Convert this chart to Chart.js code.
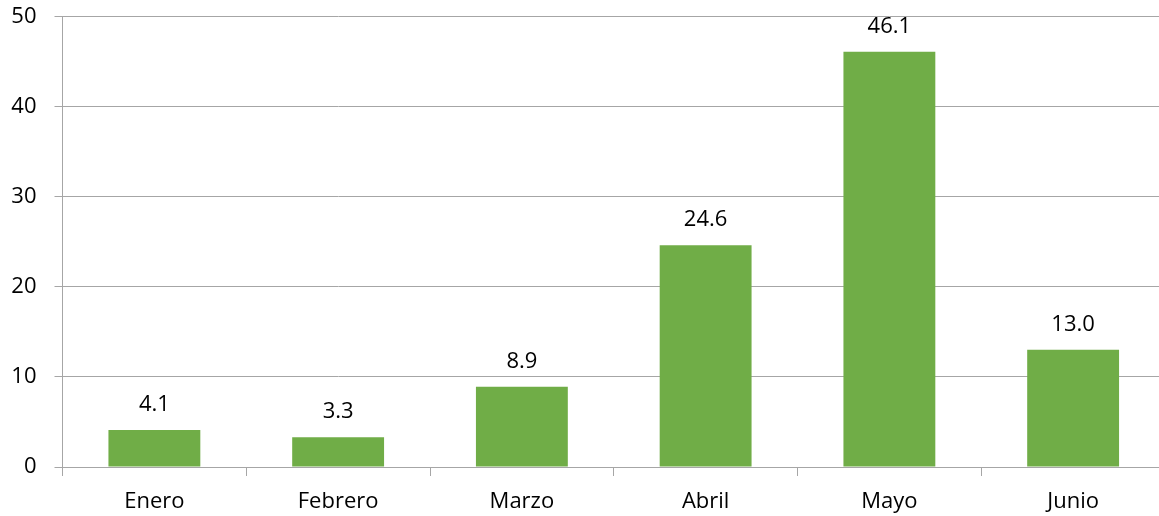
<!DOCTYPE html>
<html>
<head>
<meta charset="utf-8">
<script src="https://cdn.jsdelivr.net/npm/chart.js@4"></script>
<style>
  html, body { margin: 0; padding: 0; background: #fff; overflow: hidden; }
  #wrap { width: 1165px; height: 516px; }
</style>
</head>
<body>
<div id="wrap"><canvas id="chart" width="1165" height="516"></canvas></div>
<script>
// datos del grafico
const meses = ['Enero', 'Febrero', 'Marzo', 'Abril', 'Mayo', 'Junio'];
const valores = [4.1, 3.3, 8.9, 24.6, 46.1, 13.0];
const ejeY = [0, 10, 20, 30, 40, 50];

const gris = '#a6a6a6';
const fuente = { family: '"Open Sans", sans-serif', size: 22 };

// etiquetas encima de cada barra
const etiquetas = {
    id: 'etiquetas',
    afterDatasetsDraw(chart) {
        const ctx = chart.ctx;
        ctx.save();
        ctx.font = fuente.size + 'px ' + fuente.family;
        ctx.fillStyle = '#000';
        ctx.textAlign = 'center';
        ctx.textBaseline = 'alphabetic';
        chart.getDatasetMeta(0).data.forEach((bar, i) => {
            ctx.fillText(valores[i].toFixed(1), bar.x, bar.y - 19);
        });
        ctx.restore();
    }
};

new Chart(document.getElementById('chart'), {
    type: 'bar',
    data: {
        labels: meses,
        datasets: [{
            data: valores,
            backgroundColor: '#70ad47',
            barPercentage: 0.5,
            categoryPercentage: 1
        }]
    },
    options: {
        responsive: false,
        animation: false,
        layout: { padding: { top: 16.5, right: 0, left: 0, bottom: 0 } },
        plugins: { legend: { display: false }, tooltip: { enabled: false } },
        scales: {
            x: {
                offset: true,
                grid: { offset: true, drawOnChartArea: false, drawTicks: true, tickLength: 9, color: gris },
                border: { color: gris },
                ticks: { color: '#000', font: fuente, padding: 13 },
                afterFit: s => { s.height = 49; s.paddingLeft = 0; s.paddingRight = 0; }
            },
            y: {
                min: 0,
                max: 50,
                afterBuildTicks: s => { s.ticks = ejeY.map(v => ({ value: v })); },
                grid: { color: gris, tickLength: 8 },
                border: { color: gris },
                ticks: { color: '#000', font: fuente, padding: 18 },
                afterFit: s => { s.width = 62.5; s.paddingTop = 0; s.paddingBottom = 0; }
            }
        }
    },
    plugins: [etiquetas]
});
</script>
</body>
</html>
